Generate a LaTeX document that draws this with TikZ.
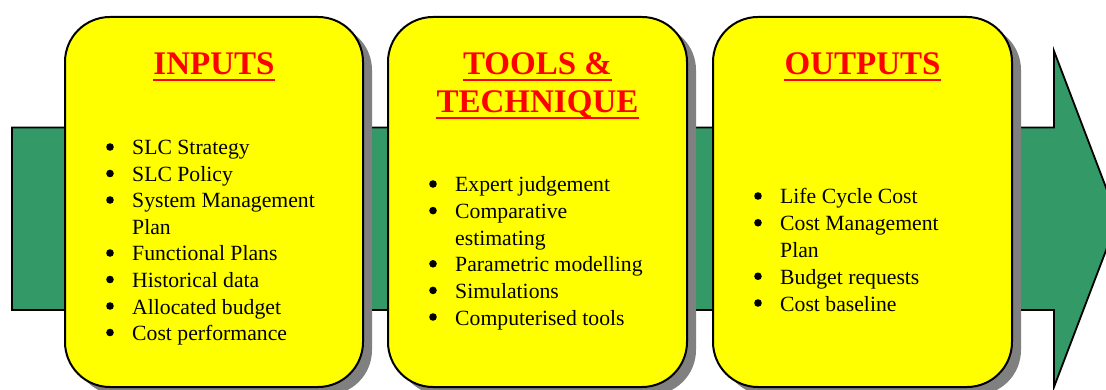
\documentclass[tikz,border=0pt]{standalone}
\usepackage{fontspec}
\setmainfont{Liberation Serif}
\usetikzlibrary{calc}
\definecolor{arrowgreen}{HTML}{339966}
\definecolor{panelyellow}{HTML}{FFFF00}
\definecolor{titlered}{HTML}{FF0000}
\definecolor{shadowgray}{HTML}{808080}
\tikzset{
  bigarrow/.style={fill=arrowgreen, draw=black, line width=1.8pt, line join=miter},
  panel/.style={draw=black, fill=panelyellow, line width=2pt, rounded corners=45pt, minimum height=370pt, inner sep=0pt},
  panelshadow/.style={fill=shadowgray, draw=none, rounded corners=45pt, minimum height=370pt, inner sep=0pt},
  title/.style={text=titlered, font=\fontsize{33}{38}\selectfont\bfseries, anchor=base, inner sep=0pt},
  uline/.style={draw=titlered, line width=2.6pt},
  item/.style={font=\fontsize{21.7}{26.5}\selectfont, anchor=base west, inner sep=0pt},
  bul/.style={circle, fill=black, draw=none, inner sep=0pt, minimum size=7.6pt, yshift=8pt}
}
\begin{document}
\begin{tikzpicture}[x=1pt,y=-1pt]
\useasboundingbox (0,0) rectangle (1106,390);
\clip (0,0) rectangle (1106,390);
% big arrow
\draw[bigarrow] (12,127.5) -- (1054,127.5) -- (1054,51) -- (1118,219) -- (1054,387) -- (1054,310) -- (12,310) -- cycle;
% shadows
\node[panelshadow, minimum width=298pt] (s1) at (223,210) {};
\node[panelshadow, minimum width=299pt] (s2) at (546.5,210) {};
\node[panelshadow, minimum width=299pt] (s3) at (871.5,210) {};
% panels
\node[panel, minimum width=298pt] (p1) at (214,202) {};
\node[panel, minimum width=299pt] (p2) at (537.5,202) {};
\node[panel, minimum width=299pt] (p3) at (862.5,202) {};
% titles
\node[title] (t1) at (214,75) {INPUTS};
\node[title] (t2a) at (537.5,75) {TOOLS \&};
\node[title] (t2b) at (537.5,113) {TECHNIQUE};
\node[title] (t3) at (862.5,75) {OUTPUTS};
\foreach \t in {t1,t2a,t2b,t3}{
  \draw[uline] ([yshift=-5pt]\t.base west) -- ([yshift=-5pt]\t.base east);
}
% inputs list
\node[bul] (a1b) at (110,155) {};   \node[item] (a1) at (132,155) {SLC Strategy};
\node[bul] (a2b) at (110,181.5) {}; \node[item] (a2) at (132,181.5) {SLC Policy};
\node[bul] (a3b) at (110,208) {};   \node[item] (a3) at (132,208) {System Management};
                                    \node[item] (a3c) at (132,234.5) {Plan};
\node[bul] (a4b) at (110,261) {};   \node[item] (a4) at (132,261) {Functional Plans};
\node[bul] (a5b) at (110,287.5) {}; \node[item] (a5) at (132,287.5) {Historical data};
\node[bul] (a6b) at (110,314) {};   \node[item] (a6) at (132,314) {Allocated budget};
\node[bul] (a7b) at (110,340.5) {}; \node[item] (a7) at (132,340.5) {Cost performance};
% tools list
\node[bul] (b1b) at (433,192) {};   \node[item] (b1) at (455,192) {Expert judgement};
\node[bul] (b2b) at (433,218.6) {}; \node[item] (b2) at (455,218.6) {Comparative};
                                    \node[item] (b2c) at (455,245.2) {estimating};
\node[bul] (b3b) at (433,271.8) {}; \node[item] (b3) at (455,271.8) {Parametric modelling};
\node[bul] (b4b) at (433,298.4) {}; \node[item] (b4) at (455,298.4) {Simulations};
\node[bul] (b5b) at (433,325) {};   \node[item] (b5) at (455,325) {Computerised tools};
% outputs list
\node[bul] (c1b) at (758,204) {};    \node[item] (c1) at (780,204) {Life Cycle Cost};
\node[bul] (c2b) at (758,230.75) {}; \node[item] (c2) at (780,230.75) {Cost Management};
                                     \node[item] (c2c) at (780,257.5) {Plan};
\node[bul] (c3b) at (758,284.25) {}; \node[item] (c3) at (780,284.25) {Budget requests};
\node[bul] (c4b) at (758,311) {};    \node[item] (c4) at (780,311) {Cost baseline};
\end{tikzpicture}
\end{document}
